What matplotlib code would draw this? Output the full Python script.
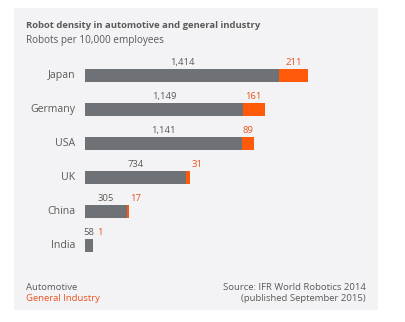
import matplotlib.pyplot as plt
from matplotlib.patches import Rectangle

# data
countries = ["Japan", "Germany", "USA", "UK", "China", "India"]
automotive = [1414, 1149, 1141, 734, 305, 58]
general = [211, 161, 89, 31, 17, 1]

GRAY = "#6e7176"
ORANGE = "#ff5a0a"
TXT = "#5a5a5a"
TXT_OR = "#e8541e"
BG = "#f3f3f5"

plt.rcParams["font.family"] = ["Open Sans", "DejaVu Sans"]

W, H = 406, 322
fig = plt.figure(figsize=(W / 100, H / 100), dpi=100, facecolor="white")

def fx(px):
    return px / W

def fy(py):
    return 1 - py / H

# grey panel behind everything
fig.patches.append(Rectangle((fx(14), fy(310)), fx(378) - fx(14), fy(8) - fy(310),
                             transform=fig.transFigure, facecolor=BG, edgecolor="none", zorder=-10))

fig.text(fx(26), fy(26), "Robot density in automotive and general industry",
         fontsize=6.8, fontweight="bold", color=TXT, va="center")
fig.text(fx(26), fy(40), "Robots per 10,000 employees", fontsize=7.2, color=TXT, va="center")

# axes for bars
ax = fig.add_axes([fx(85), fy(263), 1800 * 0.1372 / W, (263 - 58.5) / H])
ax.set_xlim(0, 1800)
ax.set_ylim(len(countries) - 0.5, -0.5)
ax.axis("off")

ys = list(range(len(countries)))
ax.barh(ys, automotive, height=0.38, color=GRAY)
ax.barh(ys, general, left=automotive, height=0.38, color=ORANGE)

for y, a, g in zip(ys, automotive, general):
    ax.annotate(f"{a:,}", (a / 2, y - 0.19), xytext=(0, 1.5), textcoords="offset points",
                ha="center", va="bottom", fontsize=6.8, color=TXT)
    if g >= 80:
        ax.annotate(f"{g:,}", (a + g / 2, y - 0.19), xytext=(0, 1.5), textcoords="offset points",
                    ha="center", va="bottom", fontsize=6.8, color=TXT_OR)
    else:
        off = 1 if a > 100 else 3
        ax.annotate(f"{g:,}", (a + g, y - 0.19), xytext=(off, 1.5), textcoords="offset points",
                    ha="left", va="bottom", fontsize=6.8, color=TXT_OR)
    ax.annotate(countries[y], (0, y), xytext=(-7, 0), textcoords="offset points",
                ha="right", va="center", fontsize=7.6, color=TXT)

# legend / source
fig.text(fx(26), fy(287), "Automotive", fontsize=6.8, color=TXT, va="center")
fig.text(fx(26), fy(298.5), "General Industry", fontsize=6.8, color=TXT_OR, va="center")
fig.text(fx(366), fy(287), "Source: IFR World Robotics 2014", fontsize=6.8, color=TXT,
         va="center", ha="right")
fig.text(fx(366), fy(298.5), "(published September 2015)", fontsize=6.8, color=TXT,
         va="center", ha="right")

fig.savefig("out.png", dpi=100, facecolor="white")
